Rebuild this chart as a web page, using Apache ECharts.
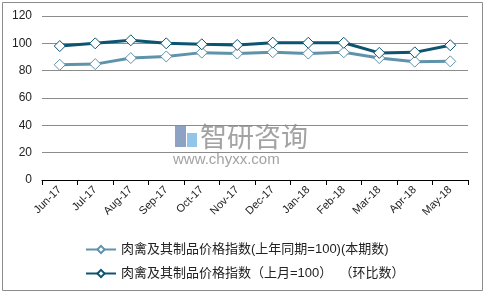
<!DOCTYPE html>
<html>
<head>
<meta charset="utf-8">
<script src="https://cdn.jsdelivr.net/npm/echarts@6/dist/echarts.min.js"></script>
<style>
html, body { margin: 0; padding: 0; background: #fff; }
#main { width: 486px; height: 295px; }
</style>
</head>
<body>
<div id="main"></div>
<script>
// 月份
var months = ['Jun-17', 'Jul-17', 'Aug-17', 'Sep-17', 'Oct-17', 'Nov-17', 'Dec-17', 'Jan-18', 'Feb-18', 'Mar-18', 'Apr-18', 'May-18'];
// 本期数（上年同期=100）
var yoyValues = [84.3, 84.8, 89.2, 90.4, 93.2, 92.5, 93.5, 92.5, 93.4, 89.2, 86.6, 86.8];
// 环比数（上月=100）
var momValues = [98.0, 100.0, 102.2, 100.0, 99.3, 98.8, 100.5, 100.4, 100.4, 93.0, 93.4, 98.6];
var yTicks = [0, 20, 40, 60, 80, 100, 120];

var seriesNames = ['肉禽及其制品价格指数(上年同期=100)(本期数)', '肉禽及其制品价格指数（上月=100）  （环比数）'];
var fontFamily = 'Arial, "Liberation Sans", "Noto Sans CJK SC", sans-serif';

var chart = echarts.init(document.getElementById('main'));
var option = {
    backgroundColor: '#fff',
    animation: false,
    textStyle: { fontFamily: fontFamily },
    graphic: [
        {
            type: 'rect',
            shape: { x: 2.5, y: 2.5, width: 480, height: 288 },
            style: { fill: 'none', stroke: '#8c8c8c', lineWidth: 1 },
            z: 0
        },
        // 水印
        {
            type: 'rect',
            shape: { x: 175, y: 125, width: 11, height: 22 },
            style: { fill: '#8ea2c4' },
            z: 0
        },
        {
            type: 'rect',
            shape: { x: 187, y: 133, width: 10, height: 14 },
            style: { fill: '#92c5e8' },
            z: 0
        },
        {
            type: 'text',
            left: 200, top: 123,
            style: { text: '智研咨询', fill: '#a3a3a3', font: '27px "Noto Sans CJK SC", sans-serif' },
            z: 0
        },
        {
            type: 'text',
            left: 173, top: 152,
            style: { text: 'www.chyxx.com', fill: '#a3a3a3', font: '15px Arial, "Liberation Sans", sans-serif', letterSpacing: 2 },
            z: 0
        }
    ],
    grid: { left: 42, right: 18, top: 16, bottom: 115 },
    legend: {
        orient: 'vertical',
        left: 80,
        top: 238,
        itemGap: 11,
        itemWidth: 30,
        itemHeight: 9,
        textStyle: { fontSize: 13, color: '#222' },
        data: seriesNames
    },
    xAxis: {
        type: 'category',
        data: months,
        boundaryGap: true,
        axisLine: { lineStyle: { color: '#000', width: 1 } },
        axisTick: { show: true, length: 5, inside: false, lineStyle: { color: '#000' } },
        axisLabel: { rotate: 45, fontSize: 11, color: '#222', margin: 8 }
    },
    yAxis: {
        type: 'value',
        min: 0,
        max: 120,
        interval: 20,
        axisLine: { show: false },
        axisTick: { show: false },
        axisLabel: { fontSize: 12, color: '#222', margin: 10 },
        splitLine: { lineStyle: { color: '#8c8c8c', width: 1 } }
    },
    series: [
        {
            name: seriesNames[0],
            type: 'line',
            data: yoyValues,
            symbol: 'diamond',
            symbolSize: 11,
            color: '#5e93aa',
            lineStyle: { width: 3, color: '#5e93aa' },
            itemStyle: { color: '#fff', borderColor: '#5e93aa', borderWidth: 1 },
            z: 3
        },
        {
            name: seriesNames[1],
            type: 'line',
            data: momValues,
            symbol: 'diamond',
            symbolSize: 11,
            color: '#0c5470',
            lineStyle: { width: 3, color: '#0c5470' },
            itemStyle: { color: '#fff', borderColor: '#0c5470', borderWidth: 1 },
            z: 4
        }
    ]
};
chart.setOption(option);
</script>
</body>
</html>
